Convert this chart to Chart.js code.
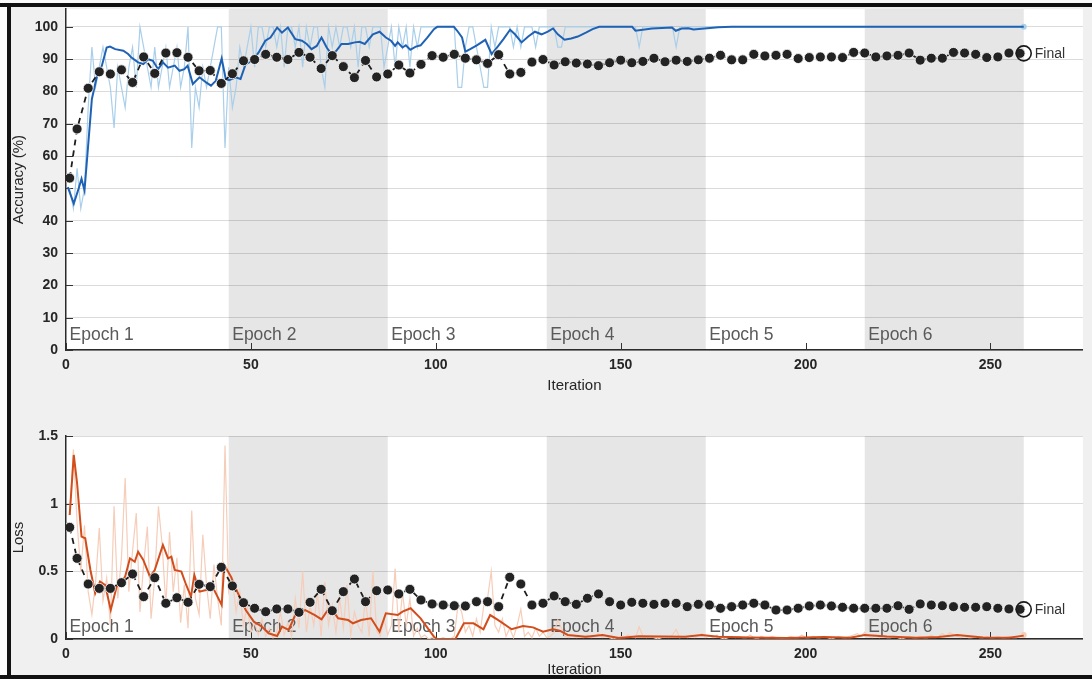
<!DOCTYPE html>
<html>
<head>
<meta charset="utf-8">
<title>Training Progress</title>
<script src="https://cdn.jsdelivr.net/npm/chart.js@4.4.1/dist/chart.umd.min.js"></script>
<style>
  html, body { margin: 0; padding: 0; }
  body { width: 1092px; height: 679px; background: #f0f0f0; position: relative; overflow: hidden; }
  .panel { position: absolute; left: 0; width: 1092px; }
  #accPanel { top: 0; height: 395px; }
  #lossPanel { top: 395px; height: 284px; }
  .edge { position: absolute; }
</style>
</head>
<body>
<div id="accPanel" class="panel"><canvas id="accChart"></canvas></div>
<div id="lossPanel" class="panel"><canvas id="lossChart"></canvas></div>
<!-- window frame -->
<div class="edge" style="left:0;top:0;width:1092px;height:3px;background:#fafafa"></div>
<div class="edge" style="left:0;top:0;width:7px;height:679px;background:#fafafa"></div>
<div class="edge" style="left:0;top:3px;width:1092px;height:4px;background:#111"></div>
<div class="edge" style="left:7px;top:3px;width:4px;height:676px;background:#111"></div>
<div class="edge" style="left:0;top:675px;width:1092px;height:4px;background:#111"></div>
<script>
// ---- axis ticks and epoch layout ----
const xTicks = [0, 50, 100, 150, 200, 250];
const accTicks = [0, 10, 20, 30, 40, 50, 60, 70, 80, 90, 100];
const lossTicks = [0, 0.5, 1, 1.5];
const epochEdges = [0, 44, 87, 130, 173, 216, 259];
const epochLabels = ['Epoch 1', 'Epoch 2', 'Epoch 3', 'Epoch 4', 'Epoch 5', 'Epoch 6'];
const finalIter = 259;
const xMax = 275;

// ---- training accuracy per iteration (iterations 1..259) ----
const trainAcc = [
  50, 43.75, 56.25, 43.75, 50, 75, 93.75, 81.25, 87.5, 93.75,
  87.5, 81.25, 68.75, 87.5, 81.25, 75, 87.5, 93.75, 81.25, 100,
  93.75, 87.5, 81.25, 93.75, 81.25, 87.5, 93.75, 81.25, 87.5, 93.75,
  81.25, 87.5, 100, 62.5, 81.25, 75, 87.5, 81.25, 87.5, 93.75,
  100, 100, 62.5, 87.5, 75, 81.25, 93.75, 87.5, 93.75, 100,
  87.5, 100, 100, 93.75, 100, 100, 93.75, 100, 87.5, 100,
  100, 93.75, 100, 87.5, 100, 93.75, 100, 100, 87.5, 81.25,
  100, 93.75, 100, 93.75, 100, 100, 93.75, 100, 87.5, 100,
  100, 93.75, 100, 100, 100, 87.5, 93.75, 100, 87.5, 100,
  93.75, 100, 87.5, 100, 93.75, 100, 100, 100, 100, 100,
  100, 100, 100, 100, 100, 81.25, 81.25, 93.75, 100, 100,
  93.75, 87.5, 81.25, 81.25, 100, 93.75, 100, 100, 100, 100,
  93.75, 100, 93.75, 100, 100, 100, 93.75, 100, 100, 100,
  100, 100, 93.75, 93.75, 100, 100, 100, 100, 100, 100,
  100, 100, 100, 100, 100, 100, 100, 100, 100, 100,
  100, 100, 100, 100, 93.75, 100, 100, 100, 100, 100,
  100, 100, 100, 100, 93.75, 100, 100, 100, 100, 100,
  100, 100, 100, 100, 100, 100, 100, 100, 100, 100,
  100, 100, 100, 100, 100, 100, 100, 100, 100, 100,
  100, 100, 100, 100, 100, 100, 100, 100, 100, 100,
  100, 100, 100, 100, 100, 100, 100, 100, 100, 100,
  100, 100, 100, 100, 100, 100, 100, 100, 100, 100,
  100, 100, 100, 100, 100, 100, 100, 100, 100, 100,
  100, 100, 100, 100, 100, 100, 100, 100, 100, 100,
  100, 100, 100, 100, 100, 100, 100, 100, 100, 100,
  100, 100, 100, 100, 100, 100, 100, 100, 100
];

// ---- smoothed training accuracy (vertices) ----
const smoothAccIter = [
  0.5, 2.1, 3.4, 4.2, 5.0, 5.7, 7.0, 8.4, 9.7, 11.0, 11.9, 13.3, 15.5, 16.8, 17.7, 19.5, 20.9, 22.2, 23.5, 24.9,
  26.2, 27.6, 29.4, 30.7, 32.0, 32.9, 34.3, 36.1, 37.9, 39.2, 40.5, 42.1, 43.2, 44.1, 45.9, 47.2, 48.6, 50.4, 52.1, 53.9,
  55.3, 57.1, 58.4, 60.0, 62.0, 63.8, 65.1, 66.4, 67.8, 69.1, 70.5, 71.8, 73.1, 74.5, 76.3, 78.1, 79.4, 80.8, 83.0, 84.8,
  86.5, 87.9, 89.0, 89.7, 91.0, 91.9, 93.1, 94.6, 95.9, 97.7, 99.5, 100.4, 104.9, 105.8, 107.1, 108.0, 109.3, 111.1, 113.4, 115.1,
  116.9, 118.3, 120.1, 121.4, 123.2, 125.0, 126.8, 128.6, 130.3, 131.7, 133.0, 134.8, 136.6, 138.4, 140.6, 142.4, 144.2, 153.1, 154.0, 158.5,
  163.9, 164.9, 166.5, 168.3, 169.7, 176.4, 180, 259
];
const smoothAccVal = [
  50.4, 45.3, 49.9, 53.0, 49.4, 59.2, 77.7, 84.9, 88.0, 93.6, 93.9, 93.1, 92.6, 91.6, 90.5, 89.0, 88.5, 90.0, 89.5, 86.9,
  89.0, 87.4, 88.0, 86.4, 86.9, 88.0, 82.3, 84.4, 82.8, 81.8, 83.3, 90.2, 83.9, 83.5, 84.4, 83.9, 88.5, 89.5, 92.1, 95.7,
  96.7, 99.8, 98.2, 99.8, 96.2, 95.7, 94.7, 93.1, 94.1, 96.7, 93.6, 91.6, 92.6, 94.7, 94.7, 95.2, 95.4, 94.7, 97.7, 98.5,
  96.7, 95.7, 94.1, 95.2, 93.6, 94.3, 92.9, 93.9, 94.3, 96.7, 99.3, 100, 100, 98.8, 96.7, 92.3, 93.1, 94.3, 96.0, 91.6,
  94.1, 96.2, 99.1, 97.7, 95.2, 97.0, 98.5, 97.7, 98.5, 99.5, 97.7, 96.0, 96.4, 97.0, 98.2, 99.3, 100, 100, 98.8, 99.5,
  99.8, 98.8, 99.5, 99.6, 99.2, 99.9, 100, 100
];

// ---- validation (iteration 1, then every 3 iterations) ----
const valIter = [
  1, 3, 6, 9, 12, 15, 18, 21, 24, 27,
  30, 33, 36, 39, 42, 45, 48, 51, 54, 57,
  60, 63, 66, 69, 72, 75, 78, 81, 84, 87,
  90, 93, 96, 99, 102, 105, 108, 111, 114, 117,
  120, 123, 126, 129, 132, 135, 138, 141, 144, 147,
  150, 153, 156, 159, 162, 165, 168, 171, 174, 177,
  180, 183, 186, 189, 192, 195, 198, 201, 204, 207,
  210, 213, 216, 219, 222, 225, 228, 231, 234, 237,
  240, 243, 246, 249, 252, 255, 258
];
const valAcc = [
  53.2, 68.4, 81.0, 86.1, 85.4, 86.7, 82.8, 90.7, 85.6, 91.9,
  92.0, 90.6, 86.4, 86.5, 82.5, 85.5, 89.5, 89.9, 91.5, 90.6,
  89.9, 92.1, 90.6, 87.1, 91.1, 87.7, 84.3, 89.6, 84.5, 85.4,
  88.2, 85.7, 88.4, 91.1, 90.6, 91.5, 90.3, 89.8, 88.7, 91.4,
  85.4, 85.9, 89.1, 89.9, 88.2, 89.2, 88.8, 88.5, 88.0, 88.9,
  89.7, 88.9, 89.3, 90.3, 89.2, 89.7, 89.3, 89.8, 90.3, 91.2,
  89.8, 89.8, 91.5, 91.0, 91.2, 91.5, 90.2, 90.5, 90.7, 90.7,
  90.5, 92.1, 91.9, 90.7, 91.0, 91.2, 91.9, 89.7, 90.3, 90.3,
  92.1, 91.9, 91.5, 90.5, 90.7, 91.9, 91.8
];
const finalAcc = 91.8;

// ---- training loss per iteration (iterations 1..259) ----
const trainLoss = [
  0.92, 1.40, 0.86, 0.50, 0.84, 0.35, 0.18, 0.42, 0.82, 0.28,
  0.45, 0.10, 0.98, 0.30, 0.60, 1.19, 0.35, 0.65, 0.93, 0.20,
  0.55, 0.83, 0.15, 0.45, 0.98, 0.70, 0.25, 0.79, 0.35, 0.60,
  0.12, 0.40, 0.08, 0.95, 0.30, 0.18, 0.77, 0.40, 0.15, 0.55,
  0.30, 0.10, 1.43, 0.35, 0.45, 0.20, 0.35, 0.10, 0.25, 0.05,
  0.12, 0.03, 0.15, 0.02, 0.08, 0.01, 0.05, 0.20, 0.03, 0.12,
  0.02, 0.30, 0.08, 0.50, 0.05, 0.25, 0.10, 0.35, 0.02, 0.42,
  0.10, 0.25, 0.05, 0.30, 0.08, 0.40, 0.03, 0.20, 0.10, 0.05,
  0.30, 0.02, 0.50, 0.06, 0.02, 0.15, 0.03, 0.10, 0.52, 0.05,
  0.35, 0.10, 0.30, 0.02, 0.08, 0.01, 0.03, 0.00, 0.01, 0.00,
  0.00, 0.01, 0.00, 0.00, 0.02, 0.25, 0.20, 0.05, 0.10, 0.02,
  0.15, 0.05, 0.25, 0.30, 0.50, 0.10, 0.05, 0.15, 0.02, 0.08,
  0.01, 0.10, 0.22, 0.02, 0.05, 0.01, 0.08, 0.02, 0.05, 0.01,
  0.02, 0.05, 0.14, 0.08, 0.02, 0.01, 0.03, 0.01, 0.02, 0.01,
  0.03, 0.01, 0.02, 0.04, 0.01, 0.02, 0.01, 0.00, 0.01, 0.02,
  0.01, 0.03, 0.02, 0.01, 0.09, 0.02, 0.01, 0.02, 0.01, 0.00,
  0.01, 0.02, 0.01, 0.03, 0.07, 0.01, 0.02, 0.01, 0.03, 0.01,
  0.02, 0.04, 0.01, 0.02, 0.01, 0.03, 0.01, 0.00, 0.01, 0.02,
  0.01, 0.02, 0.01, 0.01, 0.03, 0.01, 0.00, 0.02, 0.01, 0.01,
  0.02, 0.01, 0.01, 0.00, 0.01, 0.02, 0.01, 0.01, 0.03, 0.01,
  0.01, 0.02, 0.01, 0.01, 0.02, 0.01, 0.00, 0.01, 0.02, 0.01,
  0.01, 0.02, 0.03, 0.04, 0.02, 0.05, 0.02, 0.01, 0.03, 0.01,
  0.02, 0.01, 0.01, 0.02, 0.01, 0.00, 0.01, 0.02, 0.01, 0.01,
  0.02, 0.01, 0.01, 0.03, 0.01, 0.02, 0.04, 0.02, 0.05, 0.03,
  0.02, 0.01, 0.02, 0.01, 0.01, 0.02, 0.01, 0.01, 0.02, 0.01,
  0.01, 0.02, 0.01, 0.01, 0.02, 0.01, 0.01, 0.02, 0.03
];

// ---- smoothed training loss (vertices) ----
const smoothLossIter = [
  1.0, 2.1, 3.0, 4.2, 5.2, 6.6, 7.9, 9.2, 10.6, 12.1, 13.7, 16.0, 17.3, 18.6, 19.5, 20.9, 22.7, 24.0, 26.2, 27.6,
  28.5, 29.4, 31.2, 32.5, 33.8, 34.7, 36.1, 37.9, 39.6, 42.1, 42.8, 44.6, 46.3, 48.6, 50.8, 53.0, 54.8, 57.1, 58.4, 60.2,
  62.0, 64.7, 67.3, 69.1, 71.4, 73.6, 76.3, 77.6, 79.8, 82.5, 84.8, 86.5, 89.7, 91.0, 93.2, 95.9, 99.5, 100.4, 105.3, 107.6,
  110.2, 112.9, 114.7, 116.9, 120.5, 123.6, 126.3, 129.0, 131.7, 133.5, 135.7, 140.6, 145.1, 149.5, 154.9, 167.4, 171.9, 176.4, 185, 195,
  205, 212, 216, 222, 230, 236, 241, 248, 255, 259
];
const smoothLossVal = [
  0.916, 1.36, 1.151, 0.756, 0.744, 0.51, 0.338, 0.424, 0.399, 0.214, 0.387, 0.461, 0.596, 0.571, 0.645, 0.584, 0.461, 0.51, 0.695, 0.596,
  0.608, 0.51, 0.498, 0.399, 0.313, 0.473, 0.35, 0.362, 0.387, 0.251, 0.547, 0.461, 0.35, 0.214, 0.128, 0.091, 0.042, 0.022, 0.091, 0.067,
  0.177, 0.214, 0.177, 0.145, 0.239, 0.153, 0.14, 0.116, 0.14, 0.153, 0.054, 0.19, 0.177, 0.202, 0.227, 0.153, 0.017, 0, 0, 0.116,
  0.116, 0.072, 0.177, 0.14, 0.072, 0.096, 0.086, 0.054, 0.072, 0.062, 0.03, 0.017, 0.03, 0.007, 0.02, 0.017, 0.03, 0.017, 0.012, 0.008,
  0.015, 0.01, 0.03, 0.018, 0.01, 0.015, 0.03, 0.012, 0.01, 0.025
];

// ---- validation loss (same iterations as validation accuracy) ----
const valLoss = [
  0.825, 0.596, 0.406, 0.374, 0.374, 0.416, 0.480, 0.313, 0.453, 0.264,
  0.305, 0.271, 0.404, 0.387, 0.530, 0.392, 0.268, 0.227, 0.202, 0.222,
  0.222, 0.197, 0.271, 0.367, 0.209, 0.350, 0.443, 0.276, 0.357, 0.362,
  0.333, 0.367, 0.288, 0.259, 0.251, 0.246, 0.244, 0.276, 0.276, 0.239,
  0.456, 0.406, 0.251, 0.264, 0.318, 0.276, 0.256, 0.301, 0.333, 0.276,
  0.251, 0.271, 0.264, 0.256, 0.264, 0.264, 0.239, 0.256, 0.251, 0.227,
  0.239, 0.251, 0.264, 0.251, 0.214, 0.214, 0.227, 0.244, 0.251, 0.244,
  0.234, 0.227, 0.227, 0.227, 0.227, 0.246, 0.219, 0.259, 0.251, 0.246,
  0.239, 0.234, 0.234, 0.239, 0.227, 0.222, 0.219
];
const finalLoss = 0.219;

// ---- drawing helpers ----
const FONT = '"Liberation Sans", Arial, Helvetica, sans-serif';
const TEXT = '#262626';

const pairs = (xs, ys) => xs.map((x, i) => ({ x: x, y: ys[i] }));
const perIteration = ys => ys.map((y, i) => ({ x: i + 1, y: y }));

// Plot background, shaded epochs, epoch names, inward ticks and the "Final" tag
const panelPlugin = {
  id: 'panel',
  beforeDraw(chart) {
    const { ctx, chartArea: a, scales: { x } } = chart;
    ctx.save();
    ctx.fillStyle = '#ffffff';
    ctx.fillRect(a.left, a.top, a.right - a.left, a.bottom - a.top);
    ctx.fillStyle = '#e6e6e6';
    for (let i = 1; i < epochEdges.length - 1; i += 2) {
      const x0 = x.getPixelForValue(epochEdges[i]);
      const x1 = x.getPixelForValue(epochEdges[i + 1]);
      ctx.fillRect(x0, a.top, x1 - x0, a.bottom - a.top);
    }
    ctx.restore();
  },
  beforeDatasetsDraw(chart, args, opts) {
    const { ctx, chartArea: a, scales: { x, y } } = chart;
    ctx.save();
    ctx.font = '17.5px ' + FONT;
    ctx.fillStyle = '#5a5a5a';
    ctx.textAlign = 'left';
    ctx.textBaseline = 'alphabetic';
    epochLabels.forEach((t, i) => {
      ctx.fillText(t, x.getPixelForValue(epochEdges[i]) + 3.5, a.bottom - opts.labelLift);
    });
    ctx.strokeStyle = '#333333';
    ctx.lineWidth = 1;
    ctx.beginPath();
    x.ticks.forEach(t => {
      const px = Math.round(x.getPixelForValue(t.value)) + 0.5;
      ctx.moveTo(px, a.bottom);
      ctx.lineTo(px, a.bottom - 7);
    });
    y.ticks.forEach(t => {
      const py = Math.round(y.getPixelForValue(t.value)) + 0.5;
      ctx.moveTo(a.left, py);
      ctx.lineTo(a.left + 7, py);
    });
    ctx.stroke();
    ctx.restore();
  },
  afterDatasetsDraw(chart, args, opts) {
    const { ctx, scales: { x, y } } = chart;
    ctx.save();
    ctx.font = '14px ' + FONT;
    ctx.fillStyle = '#333333';
    ctx.textAlign = 'left';
    ctx.textBaseline = 'middle';
    ctx.fillText('Final', x.getPixelForValue(finalIter) + 11, y.getPixelForValue(opts.finalValue) + 1);
    ctx.restore();
  }
};

function buildChart(canvasId, cfg) {
  const lastIdx = cfg.raw.length - 1;
  return new Chart(document.getElementById(canvasId), {
    type: 'line',
    data: {
      datasets: [
        {
          label: 'Final',
          data: [{ x: finalIter, y: cfg.finalValue }],
          showLine: false,
          pointRadius: 7.5,
          pointBackgroundColor: 'rgba(0,0,0,0)',
          pointBorderColor: '#1a1a1a',
          pointBorderWidth: 1.6,
          order: 0
        },
        {
          label: 'Validation',
          data: pairs(valIter, cfg.val),
          borderColor: '#1e1e1e',
          borderWidth: 1.8,
          borderDash: [6, 5],
          pointRadius: 5,
          pointBackgroundColor: '#232323',
          pointBorderColor: '#ffffff',
          pointBorderWidth: 0.8,
          order: 1
        },
        {
          label: 'Smoothed',
          data: pairs(cfg.smoothIter, cfg.smoothVal),
          borderColor: cfg.smoothColor,
          borderWidth: 2,
          pointRadius: 0,
          order: 2
        },
        {
          label: 'Training',
          data: perIteration(cfg.raw),
          borderColor: cfg.rawColor,
          borderWidth: 1.2,
          pointRadius: c => (c.dataIndex === lastIdx ? 3 : 0),
          pointBackgroundColor: cfg.rawColor,
          pointBorderWidth: 0,
          order: 3
        }
      ]
    },
    options: {
      responsive: true,
      maintainAspectRatio: false,
      animation: false,
      events: [],
      layout: { padding: { left: 10, top: cfg.padTop, right: 0, bottom: 0 } },
      elements: { line: { tension: 0 } },
      plugins: {
        legend: { display: false },
        tooltip: { enabled: false },
        panel: { labelLift: cfg.labelLift, finalValue: cfg.finalValue }
      },
      scales: {
        x: {
          type: 'linear',
          min: 0,
          max: xMax,
          afterBuildTicks: s => { s.ticks = xTicks.map(v => ({ value: v })); },
          afterFit: s => { s.height = cfg.xHeight; s.paddingLeft = 0; s.paddingRight = 0; },
          grid: { display: false, drawTicks: false },
          border: { display: true, color: '#2b2b2b', width: 1.5 },
          ticks: { padding: 7, color: TEXT, maxRotation: 0, callback: v => String(v), font: { family: FONT, size: 14, weight: 'bold' } },
          title: { display: true, text: 'Iteration', color: TEXT, font: { family: FONT, size: 15 }, padding: { top: 0, bottom: cfg.titlePad } }
        },
        y: {
          type: 'linear',
          min: 0,
          max: cfg.yMax,
          afterBuildTicks: s => { s.ticks = cfg.yTicks.map(v => ({ value: v })); },
          afterFit: s => { s.width = 56; s.paddingTop = 0; s.paddingBottom = 0; },
          grid: { color: 'rgba(0,0,0,0.14)', drawTicks: false },
          border: { display: true, color: '#2b2b2b', width: 1.5 },
          ticks: { padding: 8, color: TEXT, callback: v => String(v), font: { family: FONT, size: 14, weight: 'bold' } },
          title: { display: true, text: cfg.yTitle, color: TEXT, font: { family: FONT, size: 15 }, padding: { top: 0, bottom: 0 } }
        }
      }
    },
    plugins: [panelPlugin]
  });
}

buildChart('accChart', {
  raw: trainAcc, smoothIter: smoothAccIter, smoothVal: smoothAccVal, val: valAcc,
  finalValue: finalAcc, yMax: 105.5, yTicks: accTicks, yTitle: 'Accuracy (%)',
  rawColor: '#a9cfea', smoothColor: '#1f62b4',
  padTop: 8, xHeight: 45, titlePad: 0, labelLift: 10
});

buildChart('lossChart', {
  raw: trainLoss, smoothIter: smoothLossIter, smoothVal: smoothLossVal, val: valLoss,
  finalValue: finalLoss, yMax: 1.5, yTicks: lossTicks, yTitle: 'Loss',
  rawColor: '#f6cdb9', smoothColor: '#d24d1c',
  padTop: 41, xHeight: 40, titlePad: 0, labelLift: 7
});
</script>
</body>
</html>
